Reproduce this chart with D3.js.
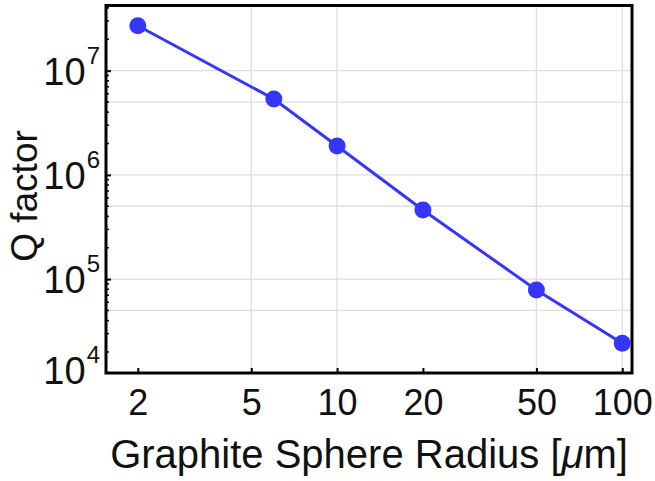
<!DOCTYPE html>
<html>
<head>
<meta charset="utf-8">
<script src="https://cdn.jsdelivr.net/npm/d3@7"></script>
<style>
body{margin:0;background:#fff}
svg{display:block;font-family:"Liberation Sans",Arial,sans-serif}
</style>
</head>
<body>
<svg id="chart"></svg>
<script>
// data
var radius = [2, 6, 10, 20, 50, 100]
var qFactor = [2.7e7, 5.35e6, 1.89e6, 4.6e5, 7.85e4, 2.42e4]
var xTicks = [2, 5, 10, 20, 50, 100]
var yTicks = [1e4, 1e5, 1e6, 1e7]
var xGrid = [5, 10, 50, 100]
var yGrid = [5e4, 1e5, 5e5, 1e6, 5e6, 1e7]

var screen = {width:655, height:481}
var margins = {top:5.5, right:23, bottom:108, left:106}
var width = screen.width - margins.left - margins.right
var height = screen.height - margins.top - margins.bottom
var blue = "#3535fb"

var svg = d3.select("#chart")
    .attr("width", screen.width)
    .attr("height", screen.height)

var g = svg.append("g")
    .attr("transform", "translate(" + margins.left + "," + margins.top + ")")

var xScale = d3.scaleLog().domain([1.547, 108.2]).range([0, width])
var yScale = d3.scaleLog().domain([1.256e4, 4.22e7]).range([height, 0])

// grid
g.append("g").selectAll("line").data(xGrid).enter().append("line")
    .attr("x1", function(d){return xScale(d)}).attr("x2", function(d){return xScale(d)})
    .attr("y1", 0).attr("y2", height)
    .attr("stroke", "#dedede").attr("stroke-width", 1.3)
g.append("g").selectAll("line").data(yGrid).enter().append("line")
    .attr("y1", function(d){return yScale(d)}).attr("y2", function(d){return yScale(d)})
    .attr("x1", 0).attr("x2", width)
    .attr("stroke", "#dedede").attr("stroke-width", 1.3)

// minor ticks on y
var minor = yScale.ticks().filter(function(d){return yTicks.indexOf(d) < 0})
g.append("g").selectAll("line").data(minor).enter().append("line")
    .attr("y1", function(d){return yScale(d)}).attr("y2", function(d){return yScale(d)})
    .attr("x1", 0).attr("x2", 3)
    .attr("stroke", "#000").attr("stroke-width", 1.5)

// x axis
var xAxis = d3.axisBottom(xScale)
    .tickValues(xTicks)
    .tickFormat(d3.format("d"))
    .tickSizeInner(-5).tickSizeOuter(0).tickPadding(16)
var xg = g.append("g")
    .attr("transform", "translate(0," + height + ")")
    .call(xAxis)
xg.select(".domain").remove()
xg.selectAll("line").attr("stroke-width", 2)
xg.selectAll("text").attr("font-size", 36).attr("fill", "#111")
    .attr("font-family", "Liberation Sans, Arial, sans-serif")

// y axis, labels as 10^n
var yAxis = d3.axisLeft(yScale)
    .tickValues(yTicks)
    .tickFormat(function(){return ""})
    .tickSizeInner(-5).tickSizeOuter(0).tickPadding(6)
var yg = g.append("g").call(yAxis)
yg.select(".domain").remove()
yg.selectAll("line").attr("stroke-width", 2)
    .filter(function(d){return yScale(d) > height}).remove()
yg.selectAll(".tick text")
    .attr("font-size", 38).attr("fill", "#111").attr("dy", "0.36em")
    .attr("font-family", "Liberation Sans, Arial, sans-serif")
    .attr("y", function(d){return Math.min(0, height - 3 - yScale(d))})
    .each(function(d){
        var t = d3.select(this)
        t.append("tspan").text("10")
        t.append("tspan").attr("font-size", 24).attr("dx", 1).attr("dy", -21).text(Math.round(Math.log10(d)))
    })

// frame
g.append("rect")
    .attr("x", 0).attr("y", 0).attr("width", width).attr("height", height)
    .attr("fill", "none").attr("stroke", "#000").attr("stroke-width", 3)

// series
var line = d3.line()
    .x(function(d, i){return xScale(radius[i])})
    .y(function(d){return yScale(d)})
g.append("path").datum(qFactor)
    .attr("d", line)
    .attr("fill", "none").attr("stroke", blue).attr("stroke-width", 3)
g.selectAll("circle.pt").data(qFactor).enter().append("circle")
    .attr("class", "pt")
    .attr("cx", function(d, i){return xScale(radius[i])})
    .attr("cy", function(d){return yScale(d)})
    .attr("r", 8.5)
    .attr("fill", blue)

// axis titles
var xt = svg.append("text")
    .attr("x", margins.left + width / 2).attr("y", 468)
    .attr("text-anchor", "middle").attr("font-size", 40).attr("fill", "#111")
xt.append("tspan").text("Graphite Sphere Radius [")
xt.append("tspan").attr("font-style", "italic").text("\u03bc")
xt.append("tspan").text("m]")

svg.append("text")
    .attr("transform", "translate(37,196) rotate(-90)")
    .attr("text-anchor", "middle").attr("font-size", 37).attr("fill", "#111")
    .text("Q factor")
</script>
</body>
</html>
